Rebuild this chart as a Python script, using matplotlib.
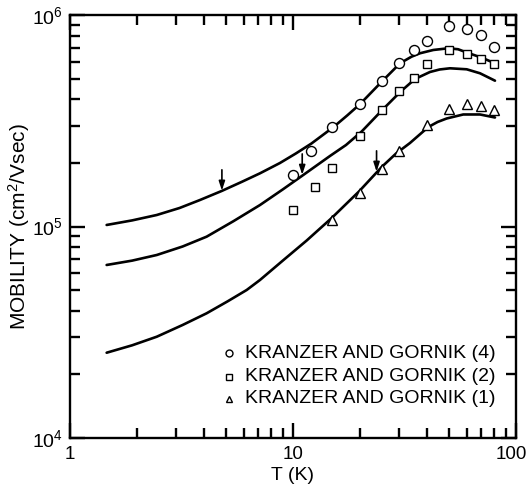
import matplotlib
matplotlib.use("Agg")
import matplotlib.pyplot as plt
from matplotlib.ticker import FixedLocator, FixedFormatter, NullFormatter
from matplotlib.transforms import ScaledTranslation

plt.rcParams['font.family'] = ['Liberation Sans', 'DejaVu Sans']
plt.rcParams['mathtext.fontset'] = 'custom'
plt.rcParams['mathtext.rm'] = 'Liberation Sans'
plt.rcParams['mathtext.it'] = 'Liberation Sans:italic'
plt.rcParams['mathtext.bf'] = 'Liberation Sans:bold'

# ---- data ----
# Kranzer and Gornik (4) - circles
T_c4 = [10, 12, 15, 20, 25, 30, 35, 40, 50, 60, 70, 80]
mu_c4 = [1.75e5, 2.28e5, 2.96e5, 3.8e5, 4.87e5, 5.98e5, 6.88e5, 7.6e5, 8.9e5, 8.65e5, 8.04e5, 7.13e5]
# Kranzer and Gornik (2) - squares
T_s2 = [10, 12.5, 15, 20, 25, 30, 35, 40, 50, 60, 70, 80]
mu_s2 = [1.2e5, 1.54e5, 1.9e5, 2.68e5, 3.58e5, 4.37e5, 5.05e5, 5.87e5, 6.88e5, 6.54e5, 6.24e5, 5.87e5]
# Kranzer and Gornik (1) - triangles
T_t1 = [15, 20, 25, 30, 40, 50, 60, 70, 80]
mu_t1 = [1.08e5, 1.445e5, 1.88e5, 2.27e5, 3.02e5, 3.59e5, 3.82e5, 3.71e5, 3.55e5]

# theory curves
T_A = [1.46, 1.9, 2.45, 3.1, 3.83, 4.79, 5.9, 7.11, 8.74, 10.3, 12.1, 15.2, 17.5, 20.0, 25.0,
       30.2, 34.0, 37.1, 42.6, 49.7, 55.0, 60.5, 70.2, 80.5]
mu_A = [1.018e5, 1.07e5, 1.135e5, 1.225e5, 1.337e5, 1.475e5, 1.63e5, 1.788e5, 2.001e5, 2.22e5,
        2.475e5, 2.963e5, 3.36e5, 3.808e5, 4.858e5, 5.937e5, 6.38e5, 6.622e5, 6.865e5, 6.993e5,
        6.92e5, 6.665e5, 6.31e5, 5.937e5]
T_B = [1.46, 1.9, 2.45, 3.2, 4.10, 5.4, 7.11, 9.0, 11.12, 14.65, 17.29, 20.33, 25.14, 30.41,
       35.25, 41.15, 45.5, 50.58, 60.1, 68.97, 80.5]
mu_B = [6.58e4, 6.9e4, 7.337e4, 8.05e4, 8.96e4, 1.06e5, 1.265e5, 1.5e5, 1.756e5, 2.16e5,
        2.435e5, 2.822e5, 3.567e5, 4.365e5, 5.003e5, 5.4e5, 5.55e5, 5.622e5, 5.561e5, 5.324e5, 4.911e5]
T_C = [1.46, 1.9, 2.45, 3.2, 4.10, 5.1, 6.2, 7.11, 9.0, 11.52, 14.91, 19.77, 24.99, 29.0,
       33.47, 40.45, 44.5, 48.9, 58.0, 68.97, 80.5]
mu_C = [2.527e4, 2.74e4, 3.009e4, 3.42e4, 3.885e4, 4.43e4, 5.009e4, 5.585e4, 6.9e4, 8.593e4,
        1.098e5, 1.467e5, 1.916e5, 2.22e5, 2.489e5, 2.963e5, 3.13e5, 3.252e5, 3.397e5, 3.397e5, 3.287e5]

# arrows
arrow_T = [4.8, 11.0, 23.7]
arrow_mu = [1.48e5, 1.76e5, 1.82e5]

legend_labels = ['KRANZER AND GORNIK (4)', 'KRANZER AND GORNIK (2)', 'KRANZER AND GORNIK (1)']

x_ticks = [1, 10, 100]
x_ticklabels = ['1', '10', '100']
x_minor = [2, 3, 4, 5, 6, 7, 8, 9, 20, 30, 40, 50, 60, 70, 80, 90]
y_ticks = [1e4, 1e5, 1e6]
y_ticklabels = [r'$\mathregular{10^4}$', r'$\mathregular{10^5}$', r'$\mathregular{10^6}$']
y_minor = [2e4, 3e4, 4e4, 5e4, 6e4, 7e4, 8e4, 9e4, 2e5, 3e5, 4e5, 5e5, 6e5, 7e5, 8e5, 9e5]

fig = plt.figure(figsize=(5.29, 4.87), dpi=100)
ax = fig.add_axes([0.1323, 0.1012, 0.8431, 0.867])
ax.set_xscale('log')
ax.set_yscale('log')
ax.set_xlim(1, 100)
ax.set_ylim(1e4, 1e6)

lw = 1.9
for T, mu in [(T_A, mu_A), (T_B, mu_B), (T_C, mu_C)]:
    ax.plot(T, mu, color='black', lw=lw, solid_capstyle='round', solid_joinstyle='round')

mk = dict(linestyle='none', markerfacecolor='white', markeredgecolor='black', markeredgewidth=1.0)
ax.plot(T_c4, mu_c4, marker='o', markersize=7.2, **mk)
ax.plot(T_s2, mu_s2, marker='s', markersize=5.6, **mk)
ax.plot(T_t1, mu_t1, marker='^', markersize=6.6, **mk)

for t, m in zip(arrow_T, arrow_mu):
    ax.annotate('', xy=(t, m), xytext=(0, 15), textcoords='offset points',
                arrowprops=dict(arrowstyle='-|>,head_length=0.55,head_width=0.18',
                                lw=1.2, color='black', shrinkA=0, shrinkB=0))

# legend (manual)
leg_markers = ['o', 's', '^']
leg_sizes = [5.0, 4.4, 5.0]
leg_y = [0.2006, 0.1445, 0.0917]
for m, s, y, lab in zip(leg_markers, leg_sizes, leg_y, legend_labels):
    ax.plot([0.3565], [y], marker=m, markersize=s, transform=ax.transAxes, clip_on=False, **mk)
    ax.text(0.392, y, lab, transform=ax.transAxes, fontsize=14, va='center', ha='left')

ax.xaxis.set_major_locator(FixedLocator(x_ticks))
ax.xaxis.set_major_formatter(FixedFormatter(x_ticklabels))
ax.xaxis.set_minor_locator(FixedLocator(x_minor))
ax.xaxis.set_minor_formatter(NullFormatter())
ax.yaxis.set_major_locator(FixedLocator(y_ticks))
ax.yaxis.set_major_formatter(FixedFormatter(y_ticklabels))
ax.yaxis.set_minor_locator(FixedLocator(y_minor))
ax.yaxis.set_minor_formatter(NullFormatter())

ax.tick_params(axis='both', which='major', direction='in', length=10.5, width=1.7, color='black',
               top=True, right=True, bottom=True, left=True, labelsize=14)
ax.tick_params(axis='x', which='major', pad=6, labelsize=13.5)
ax.tick_params(axis='y', which='major', pad=5)
ax.tick_params(axis='both', which='minor', direction='in', length=7.5, width=1.7, color='black',
               top=True, right=True, bottom=True, left=True)
for sp in ax.spines.values():
    sp.set_linewidth(1.7)

# keep the "100" label inside the figure edge, as in the reference
last = ax.get_xticklabels()[-1]
last.set_transform(last.get_transform() + ScaledTranslation(-3.5 / 72, 0, fig.dpi_scale_trans))

ax.set_xlabel('T (K)', fontsize=14, labelpad=3)
ax.set_ylabel(r'MOBILITY (cm$\mathregular{^2}$/Vsec)', fontsize=15, labelpad=0)

fig.savefig('out.png', dpi=100)
